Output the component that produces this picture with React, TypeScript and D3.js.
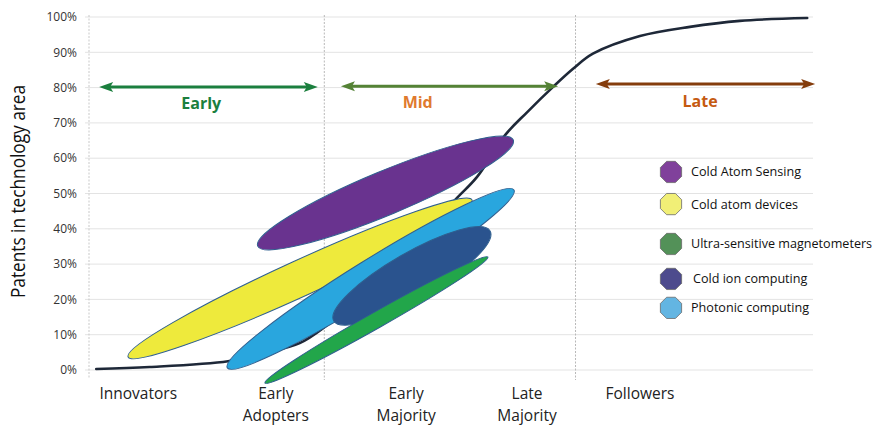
import React from "react";
import * as d3 from "d3";

// ---------- data ----------
const yTicks = [0, 10, 20, 30, 40, 50, 60, 70, 80, 90, 100];
const categories = ["Innovators", "Early\nAdopters", "Early\nMajority", "Late\nMajority", "Followers"];
const categoryX = [6.8, 25.8, 43.8, 60.5, 76.1];
const phaseDividers = [32.5, 67.2];

const curveX = [1.0, 8.4, 19.2, 23.6, 29.1, 33.3, 41.6, 50.3, 53.6, 57.5, 60.5, 64.1, 66.9, 69.6, 76.1, 83.0, 89.9, 99.2];
const curveY = [0.3, 0.85, 2.5, 4.5, 7.6, 13.3, 26.9, 47.6, 54.7, 66.6, 73.0, 80.2, 85.4, 89.6, 94.6, 97.2, 98.9, 99.7];

const phaseNames = ["Early", "Mid", "Late"];
const phaseStart = [1.4, 34.8, 70.0];
const phaseEnd = [31.6, 64.8, 100.3];
const phaseLevel = [80.2, 80.4, 81.0];
const phaseLabelX = [15.5, 45.4, 84.4];
const phaseLabelY = [75.4, 75.9, 76.2];

const techNames = ["Cold Atom Sensing", "Cold atom devices", "Photonic computing", "Cold ion computing", "Ultra-sensitive magnetometers"];
const techStartX = [23.3, 5.4, 19.1, 33.8, 24.3];
const techStartY = [35.1, 3.7, 0.6, 13.9, -3.7];
const techEndX = [58.6, 52.9, 58.7, 55.4, 55.1];
const techEndY = [65.2, 48.2, 51.0, 39.4, 32.0];
const techSpread = [12.4, 10.2, 10.6, 13.0, 4.5]; // perpendicular spread, in y-units

const legendNames = ["Cold Atom Sensing", "Cold atom devices", "Ultra-sensitive magnetometers", "Cold ion computing", "Photonic computing"];
const legendY = [56.1, 47.0, 35.7, 25.8, 17.6];

// ---------- styles ----------
const W = 876, H = 425;
const FONT = "'Open Sans', 'Noto Sans', sans-serif";
const techFill: Record<string, string> = {
  "Cold Atom Sensing": "#69338f",
  "Cold atom devices": "#eeea3c",
  "Photonic computing": "#29a6de",
  "Cold ion computing": "#2a538e",
  "Ultra-sensitive magnetometers": "#22a64a",
};
const legendFill: Record<string, string> = {
  "Cold Atom Sensing": "#80419b",
  "Cold atom devices": "#f1ef76",
  "Ultra-sensitive magnetometers": "#539158",
  "Cold ion computing": "#4d4b8d",
  "Photonic computing": "#63b5e2",
};
const arrowColor = ["#1b7f3e", "#548235", "#843c0c"];
const labelColor = ["#1b7f3e", "#e07a2e", "#c55a11"];

export default function App() {
  const x = d3.scaleLinear().domain([0, 100]).range([89, 813]);
  const y = d3.scaleLinear().domain([0, 100]).range([370, 17]);

  const pts: [number, number][] = curveX.map((v, i) => [x(v), y(curveY[i])]);
  const lineGen = d3.line().curve(d3.curveCatmullRom.alpha(0.5));
  const curvePath = lineGen(pts) || "";

  const ellipses = techNames.map((name, i) => {
    const x1 = x(techStartX[i]), y1 = y(techStartY[i]);
    const x2 = x(techEndX[i]), y2 = y(techEndY[i]);
    const cx = (x1 + x2) / 2, cy = (y1 + y2) / 2;
    const rx = Math.hypot(x2 - x1, y2 - y1) / 2;
    const ry = (y(0) - y(techSpread[i])) / 2;
    const ang = (Math.atan2(y2 - y1, x2 - x1) * 180) / Math.PI;
    return { name, cx, cy, rx, ry, ang };
  });

  const arrowHead = (tipX: number, tipY: number, dir: number) => {
    const L = 14, hw = 5;
    return `M${tipX},${tipY} L${tipX - dir * L},${tipY - hw} L${tipX - dir * (L - 3)},${tipY} L${tipX - dir * L},${tipY + hw} Z`;
  };

  const octagon = (cx: number, cy: number, r: number) => {
    const p: string[] = [];
    for (let k = 0; k < 8; k++) {
      const a = (Math.PI / 8) + (k * Math.PI) / 4;
      p.push(`${cx + r * Math.cos(a)},${cy + r * Math.sin(a)}`);
    }
    return p.join(" ");
  };

  return (
    <svg width={W} height={H} style={{ position: "absolute", left: 0, top: 0, background: "#fff" }} fontFamily={FONT}>
      {/* gridlines */}
      {yTicks.map((t) => (
        <line key={"g" + t} x1={85} x2={813} y1={y(t)} y2={y(t)} stroke="#e3e3e3" strokeWidth={1} />
      ))}
      {/* y axis + dividers (dotted) */}
      <line x1={x(0)} x2={x(0)} y1={15} y2={378} stroke="#c9c9c9" strokeWidth={1} strokeDasharray="2,1.5" />
      {phaseDividers.map((d) => (
        <line key={"d" + d} x1={x(d)} x2={x(d)} y1={15} y2={380} stroke="#b8b8b8" strokeWidth={1} strokeDasharray="2,1.5" />
      ))}
      {/* tick labels */}
      {yTicks.map((t) => (
        <text key={"t" + t} x={77} y={y(t)} dy="0.35em" textAnchor="end" fontSize={12} fill="#333">
          {t + "%"}
        </text>
      ))}
      {/* y title */}
      <text
        transform={`translate(25,191.5) rotate(-90)`}
        textAnchor="middle"
        fontSize={20}
        textLength={213}
        lengthAdjust="spacingAndGlyphs"
        fill="#111"
      >
        Patents in technology area
      </text>
      {/* category labels */}
      {categories.map((c, i) => {
        const lines = c.split("\n");
        return (
          <text key={"c" + i} x={x(categoryX[i])} y={399} textAnchor="middle" fontSize={15.5} fill="#222">
            {lines.map((ln, j) => (
              <tspan key={j} x={x(categoryX[i])} dy={j === 0 ? 0 : 22}>{ln}</tspan>
            ))}
          </text>
        );
      })}
      {/* adoption curve */}
      <path d={curvePath} fill="none" stroke="#1e2838" strokeWidth={2.6} strokeLinecap="round" />
      {/* ellipses */}
      {ellipses.map((e) => (
        <ellipse
          key={e.name}
          cx={e.cx}
          cy={e.cy}
          rx={e.rx}
          ry={e.ry}
          transform={`rotate(${e.ang},${e.cx},${e.cy})`}
          fill={techFill[e.name]}
          stroke="#2f5f8f"
          strokeWidth={1}
        />
      ))}
      {/* phase arrows */}
      {phaseNames.map((p, i) => {
        const xs = x(phaseStart[i]), xe = x(phaseEnd[i]), yy = y(phaseLevel[i]);
        return (
          <g key={p}>
            <line x1={xs + 10} x2={xe - 10} y1={yy} y2={yy} stroke={arrowColor[i]} strokeWidth={3} />
            <path d={arrowHead(xs, yy, -1)} fill={arrowColor[i]} />
            <path d={arrowHead(xe, yy, 1)} fill={arrowColor[i]} />
            <text x={x(phaseLabelX[i])} y={y(phaseLabelY[i])} dy="0.35em" textAnchor="middle" fontSize={16} fontWeight="bold" fill={labelColor[i]}>
              {p}
            </text>
          </g>
        );
      })}
      {/* legend */}
      {legendNames.map((n, i) => (
        <g key={"l" + n}>
          <polygon points={octagon(671, y(legendY[i]), 11.5)} fill={legendFill[n]} stroke="#6a6a6a" strokeWidth={0.8} />
          <text x={n === "Cold ion computing" ? 693 : 691} y={y(legendY[i])} dy="0.35em" fontSize={12.6} fill="#111">
            {n}
          </text>
        </g>
      ))}
    </svg>
  );
}
